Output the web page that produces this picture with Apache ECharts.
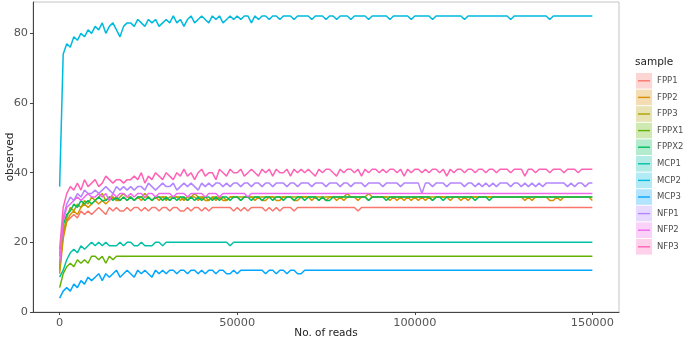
<!DOCTYPE html>
<html>
<head>
<meta charset="utf-8">
<script src="https://cdn.jsdelivr.net/npm/echarts@6/dist/echarts.min.js"></script>
<style>
  html, body { margin: 0; padding: 0; background: #fff; }
  #chart { width: 685px; height: 339px; }
</style>
</head>
<body>
<div id="chart"></div>
<script>
const samples = ["FPP1", "FPP2", "FPP3", "FPPX1", "FPPX2", "MCP1", "MCP2", "MCP3", "NFP1", "NFP2", "NFP3"];
const colors = ["#F8766D", "#DB8E00", "#AEA200", "#64B200", "#00BD5C", "#00C1A7", "#00BADE", "#00A6FF", "#B385FF", "#EF67EB", "#FF63B6"];
const xTicks = [0, 50000, 100000, 150000];
const yTicks = [0, 20, 40, 60, 80];

// rarefaction depth: one point every 1000 reads
const reads = Array.from({ length: 151 }, (_, i) => i * 1000);

const FPP1 = [
  13, 22, 26, 27, 28, 27, 29, 28, 29, 28,
  29, 30, 29, 28, 30, 29, 30, 29, 29, 30,
  29, 30, 30, 29, 30, 29, 30, 30, 29, 30,
  30, 29, 30, 30, 29, 29, 30, 29, 30, 30,
  29, 30, 29, 30, 30, 30, 30, 30, 30, 29,
  30, 29, 30, 29, 30, 30, 30, 30, 29, 30,
  29, 30, 29, 30, 30, 30, 29, 30, 30, 30,
  30, 30, 30, 30, 30, 30, 30, 30, 30, 30,
  30, 30, 30, 30, 29, 30, 30, 30, 30, 30,
  30, 30, 30, 30, 30, 30, 30, 30, 30, 30,
  30, 30, 30, 30, 30, 30, 30, 30, 30, 30,
  30, 30, 30, 30, 30, 30, 30, 30, 30, 30,
  30, 30, 30, 30, 30, 30, 30, 30, 30, 30,
  30, 30, 30, 30, 30, 30, 30, 30, 30, 30,
  30, 30, 30, 30, 30, 30, 30, 30, 30, 30,
  30
];
const FPP2 = [
  11, 21, 26, 28, 29, 28, 30, 31, 30, 31,
  32, 31, 32, 31, 32, 33, 32, 32, 33, 32,
  33, 32, 33, 32, 33, 33, 32, 33, 32, 33,
  33, 32, 33, 33, 32, 33, 32, 33, 33, 32,
  33, 32, 32, 33, 32, 33, 32, 32, 33, 33,
  33, 32, 33, 33, 33, 32, 33, 32, 32, 33,
  33, 32, 32, 33, 33, 33, 32, 32, 33, 33,
  33, 32, 33, 32, 33, 32, 33, 33, 32, 33,
  32, 33, 33, 33, 32, 33, 33, 32, 33, 33,
  33, 33, 33, 32, 33, 32, 33, 32, 33, 32,
  33, 32, 33, 32, 33, 32, 33, 33, 33, 33,
  32, 33, 33, 32, 33, 32, 33, 33, 33, 33,
  33, 33, 33, 33, 33, 33, 33, 33, 33, 33,
  33, 32, 33, 32, 33, 33, 33, 33, 32, 32,
  33, 32, 33, 33, 33, 33, 33, 33, 33, 33,
  32
];
const FPP3 = [
  12, 23, 27, 30, 29, 31, 30, 32, 31, 33,
  32, 33, 34, 32, 33, 33, 32, 33, 34, 33,
  33, 32, 33, 33, 34, 33, 32, 33, 33, 33,
  32, 33, 33, 33, 33, 32, 33, 33, 34, 33,
  33, 33, 32, 33, 33, 33, 33, 32, 33, 33,
  33, 33, 33, 33, 33, 33, 33, 33, 33, 33,
  33, 33, 33, 33, 33, 33, 33, 33, 33, 33,
  33, 33, 33, 33, 33, 33, 33, 33, 33, 33,
  33, 34, 33, 33, 33, 33, 33, 34, 33, 33,
  33, 33, 33, 33, 33, 33, 33, 33, 33, 33,
  33, 33, 33, 33, 33, 33, 33, 33, 33, 33,
  33, 33, 33, 33, 33, 33, 33, 33, 33, 33,
  33, 33, 33, 33, 33, 33, 33, 33, 33, 33,
  33, 33, 33, 33, 33, 33, 33, 33, 33, 33,
  33, 33, 33, 33, 33, 33, 33, 33, 33, 33,
  33
];
const FPPX1 = [
  7, 11, 13, 14, 13, 15, 14, 15, 14, 16,
  16, 15, 16, 14, 16, 15, 16, 16, 16, 16,
  16, 16, 16, 16, 16, 16, 16, 16, 16, 16,
  16, 16, 16, 16, 16, 16, 16, 16, 16, 16,
  16, 16, 16, 16, 16, 16, 16, 16, 16, 16,
  16, 16, 16, 16, 16, 16, 16, 16, 16, 16,
  16, 16, 16, 16, 16, 16, 16, 16, 16, 16,
  16, 16, 16, 16, 16, 16, 16, 16, 16, 16,
  16, 16, 16, 16, 16, 16, 16, 16, 16, 16,
  16, 16, 16, 16, 16, 16, 16, 16, 16, 16,
  16, 16, 16, 16, 16, 16, 16, 16, 16, 16,
  16, 16, 16, 16, 16, 16, 16, 16, 16, 16,
  16, 16, 16, 16, 16, 16, 16, 16, 16, 16,
  16, 16, 16, 16, 16, 16, 16, 16, 16, 16,
  16, 16, 16, 16, 16, 16, 16, 16, 16, 16,
  16
];
const FPPX2 = [
  16, 25, 28, 29, 31, 30, 32, 31, 32, 31,
  32, 33, 32, 32, 33, 32, 33, 32, 33, 32,
  33, 32, 33, 33, 32, 33, 32, 33, 33, 32,
  33, 32, 33, 32, 33, 33, 32, 33, 32, 33,
  32, 33, 33, 32, 33, 32, 33, 33, 32, 33,
  33, 32, 33, 33, 32, 33, 33, 32, 33, 33,
  32, 33, 33, 32, 33, 33, 32, 33, 33, 32,
  33, 33, 33, 32, 33, 32, 32, 33, 33, 33,
  33, 33, 33, 33, 33, 33, 33, 32, 33, 33,
  33, 33, 32, 33, 33, 33, 33, 33, 33, 33,
  33, 33, 33, 33, 33, 32, 33, 33, 32, 33,
  33, 33, 33, 33, 33, 33, 33, 32, 33, 33,
  33, 32, 33, 33, 33, 33, 33, 33, 33, 33,
  33, 33, 33, 33, 33, 33, 33, 33, 33, 33,
  33, 33, 33, 33, 33, 33, 33, 33, 33, 33,
  33
];
const MCP1 = [
  10, 12, 15, 17, 18, 17, 19, 18, 19, 20,
  19, 20, 19, 20, 19, 19, 19, 20, 19, 20,
  20, 19, 19, 20, 19, 19, 19, 20, 20, 19,
  20, 20, 20, 20, 20, 20, 20, 20, 20, 20,
  20, 20, 20, 20, 20, 20, 20, 20, 19, 20,
  20, 20, 20, 20, 20, 20, 20, 20, 20, 20,
  20, 20, 20, 20, 20, 20, 20, 20, 20, 20,
  20, 20, 20, 20, 20, 20, 20, 20, 20, 20,
  20, 20, 20, 20, 20, 20, 20, 20, 20, 20,
  20, 20, 20, 20, 20, 20, 20, 20, 20, 20,
  20, 20, 20, 20, 20, 20, 20, 20, 20, 20,
  20, 20, 20, 20, 20, 20, 20, 20, 20, 20,
  20, 20, 20, 20, 20, 20, 20, 20, 20, 20,
  20, 20, 20, 20, 20, 20, 20, 20, 20, 20,
  20, 20, 20, 20, 20, 20, 20, 20, 20, 20,
  20
];
const MCP2 = [
  36, 74, 77, 76, 79, 78, 80, 79, 81, 80,
  82, 81, 83, 80, 82, 83, 81, 79, 82, 83,
  83, 82, 84, 83, 82, 84, 83, 84, 82, 83,
  84, 83, 85, 83, 84, 82, 84, 85, 83, 84,
  85, 84, 83, 85, 84, 85, 83, 84, 85, 84,
  85, 84, 85, 85, 83, 85, 84, 85, 85, 84,
  85, 85, 84, 85, 85, 85, 84, 85, 85, 85,
  85, 84, 85, 85, 85, 84, 85, 85, 84, 85,
  85, 85, 84, 85, 85, 85, 85, 84, 85, 85,
  85, 85, 85, 84, 85, 85, 85, 85, 85, 84,
  85, 85, 85, 85, 85, 84, 85, 85, 85, 85,
  85, 85, 85, 85, 84, 85, 85, 85, 85, 85,
  85, 85, 85, 85, 85, 85, 85, 84, 85, 85,
  85, 85, 85, 85, 85, 85, 85, 85, 84, 85,
  85, 85, 85, 85, 85, 85, 85, 85, 85, 85,
  85
];
const MCP3 = [
  4, 6, 7, 6, 8, 7, 9, 8, 10, 9,
  10, 11, 9, 11, 10, 11, 12, 10, 11, 12,
  11, 10, 12, 11, 12, 11, 10, 12, 11, 12,
  11, 12, 12, 11, 12, 12, 11, 12, 12, 11,
  12, 11, 12, 12, 11, 12, 12, 11, 11, 12,
  11, 12, 12, 12, 12, 12, 12, 12, 11, 12,
  12, 11, 12, 12, 11, 12, 12, 11, 11, 12,
  12, 12, 12, 12, 12, 12, 12, 12, 12, 12,
  12, 12, 12, 12, 12, 12, 12, 12, 12, 12,
  12, 12, 12, 12, 12, 12, 12, 12, 12, 12,
  12, 12, 12, 12, 12, 12, 12, 12, 12, 12,
  12, 12, 12, 12, 12, 12, 12, 12, 12, 12,
  12, 12, 12, 12, 12, 12, 12, 12, 12, 12,
  12, 12, 12, 12, 12, 12, 12, 12, 12, 12,
  12, 12, 12, 12, 12, 12, 12, 12, 12, 12,
  12
];
const NFP1 = [
  16, 27, 31, 33, 32, 34, 33, 35, 34, 34,
  35, 34, 35, 36, 35, 34, 36, 35, 36, 35,
  36, 35, 36, 36, 35, 37, 36, 35, 36, 37,
  36, 36, 37, 35, 36, 37, 36, 37, 36, 35,
  37, 36, 37, 36, 37, 37, 36, 37, 36, 37,
  37, 36, 37, 37, 36, 37, 37, 36, 37, 37,
  36, 37, 37, 37, 36, 37, 37, 36, 37, 37,
  37, 36, 37, 37, 37, 36, 37, 37, 37, 36,
  37, 37, 36, 37, 37, 37, 36, 37, 37, 37,
  37, 36, 37, 37, 37, 37, 36, 37, 37, 37,
  37, 37, 34, 37, 37, 36, 37, 37, 37, 36,
  37, 37, 37, 37, 36, 37, 37, 36, 37, 36,
  37, 36, 37, 36, 37, 37, 37, 36, 37, 37,
  36, 37, 36, 37, 36, 37, 36, 37, 37, 37,
  37, 37, 37, 36, 37, 36, 37, 37, 36, 37,
  37
];
const NFP2 = [
  14, 26, 30, 31, 32, 33, 32, 33, 34, 33,
  33, 34, 33, 34, 32, 34, 33, 34, 34, 33,
  34, 33, 34, 34, 33, 34, 34, 33, 34, 34,
  34, 34, 33, 34, 34, 34, 33, 34, 34, 34,
  34, 33, 34, 34, 34, 33, 34, 34, 34, 34,
  34, 34, 34, 33, 34, 34, 34, 34, 34, 34,
  34, 34, 34, 34, 34, 34, 34, 34, 34, 34,
  34, 34, 34, 34, 34, 34, 34, 34, 34, 34,
  34, 34, 34, 34, 34, 34, 34, 34, 34, 34,
  34, 34, 34, 34, 34, 34, 34, 34, 34, 34,
  34, 34, 34, 34, 34, 34, 34, 34, 34, 34,
  34, 34, 34, 34, 34, 34, 34, 34, 34, 34,
  34, 34, 34, 34, 34, 34, 34, 34, 34, 34,
  34, 34, 34, 34, 34, 34, 34, 34, 34, 34,
  34, 34, 34, 34, 34, 34, 34, 34, 34, 34,
  34
];
const NFP3 = [
  18, 30, 34, 36, 35, 37, 35, 38, 36, 37,
  38, 36, 37, 39, 38, 37, 38, 38, 37, 38,
  38, 39, 38, 40, 37, 39, 38, 40, 39, 38,
  40, 39, 38, 40, 39, 41, 39, 40, 38, 40,
  41, 39, 40, 40, 38, 41, 40, 39, 41, 40,
  40, 41, 39, 40, 41, 40, 39, 41, 40, 41,
  39, 41, 40, 40, 41, 39, 41, 40, 41, 40,
  41, 40, 39, 41, 40, 41, 41, 40, 39, 41,
  40, 41, 41, 40, 41, 39, 41, 40, 41, 41,
  40, 41, 40, 41, 41, 40, 41, 39, 41, 40,
  41, 41, 40, 41, 40, 41, 41, 40, 41, 39,
  41, 40, 41, 41, 40, 41, 41, 40, 41, 41,
  40, 41, 41, 40, 41, 41, 41, 40, 41, 41,
  41, 39, 41, 41, 40, 41, 41, 41, 40, 41,
  41, 41, 40, 41, 41, 41, 40, 41, 41, 41,
  41
];

const observed = [FPP1, FPP2, FPP3, FPPX1, FPPX2, MCP1, MCP2, MCP3, NFP1, NFP2, NFP3];

const chart = echarts.init(document.getElementById("chart"), null, { renderer: "canvas" });

const font = "DejaVu Sans";
const legendTop = 73;
const keyStep = 16.6;

const legendGraphics = [
  {
    type: "text",
    left: 635,
    top: 57,
    style: { text: "sample", font: `10.5px '${font}'`, fill: "#222" },
  },
];
samples.forEach((name, k) => {
  const y = legendTop + k * keyStep;
  legendGraphics.push(
    {
      type: "rect",
      shape: { x: 636, y: y, width: 16, height: keyStep - 1 },
      style: { fill: colors[k], opacity: 0.3 },
    },
    {
      type: "line",
      shape: { x1: 638, y1: y + (keyStep - 1) / 2, x2: 650, y2: y + (keyStep - 1) / 2 },
      style: { stroke: colors[k], lineWidth: 1.4 },
    },
    {
      type: "text",
      x: 657,
      y: y + (keyStep - 1) / 2,
      style: {
        text: name,
        font: `8.5px '${font}'`,
        fill: "#4d4d4d",
        verticalAlign: "middle",
      },
    }
  );
});

const option = {
  animation: false,
  backgroundColor: "#fff",
  grid: {
    left: 33,
    right: 66,
    top: 2,
    bottom: 27,
    containLabel: false,
    outerBoundsMode: "none",
    show: true,
    borderColor: "#c4c4c4",
    borderWidth: 1,
  },
  xAxis: {
    type: "value",
    min: -7500,
    max: 157500,
    name: "No. of reads",
    nameLocation: "middle",
    nameMoveOverlap: false,
    nameGap: 16,
    nameTextStyle: { fontFamily: font, fontSize: 10.5, color: "#222" },
    splitLine: { show: false },
    axisLine: { onZero: false, lineStyle: { color: "#444", width: 1 } },
    axisTick: { customValues: xTicks, length: 3, lineStyle: { color: "#444" } },
    axisLabel: {
      customValues: xTicks,
      formatter: (v) => String(v),
      fontFamily: font,
      fontSize: 11.3,
      color: "#555",
      margin: 6,
    },
  },
  yAxis: {
    type: "value",
    min: 0,
    max: 89,
    name: "observed",
    nameLocation: "middle",
    nameMoveOverlap: false,
    nameGap: 17,
    nameTextStyle: { fontFamily: font, fontSize: 10.5, color: "#222" },
    splitLine: { show: false },
    axisLine: { show: true, onZero: false, lineStyle: { color: "#444", width: 1 } },
    axisTick: { show: true, customValues: yTicks, length: 3, lineStyle: { color: "#444" } },
    axisLabel: {
      customValues: yTicks,
      formatter: (v) => String(v),
      fontFamily: font,
      fontSize: 11.3,
      color: "#555",
      margin: 5,
    },
  },
  series: samples.map((name, k) => ({
    name,
    type: "line",
    data: reads.map((x, i) => [x, observed[k][i]]),
    showSymbol: false,
    lineStyle: { color: colors[k], width: 1.5 },
    itemStyle: { color: colors[k] },
    emphasis: { disabled: true },
  })),
  graphic: legendGraphics,
};

chart.setOption(option);
</script>
</body>
</html>
